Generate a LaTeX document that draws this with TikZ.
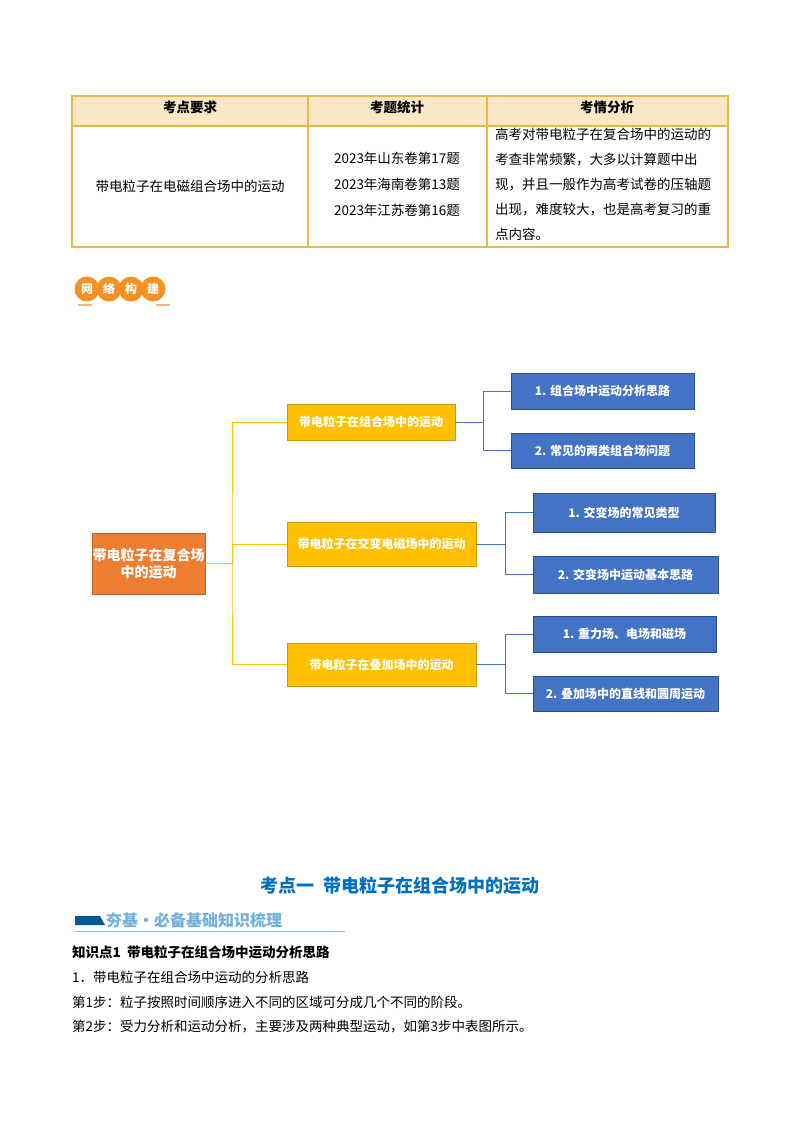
\documentclass[tikz,border=0pt]{standalone}
\usepackage{fontspec}
\setmainfont{Noto Sans CJK SC}
\definecolor{tb}{HTML}{E8B84A}
\definecolor{th}{HTML}{FBE7C6}
\definecolor{org}{HTML}{ED7D31}
\definecolor{yel}{HTML}{FFC000}
\definecolor{blu}{HTML}{4472C4}
\definecolor{ttl}{HTML}{0070C0}
\begin{document}
\begin{tikzpicture}[x=1pt,y=-1pt,
 ybox/.style={fill=yel,draw=yel!80!black,line width=0.4pt,text=white,font=\fontsize{12}{14}\selectfont\bfseries},
 bbox/.style={fill=blu,draw=blu!70!black,line width=0.4pt,text=white,font=\fontsize{12}{14}\selectfont\bfseries},
 yl/.style={yel,line width=1pt},
 bl/.style={blu,line width=1pt},
 body/.style={anchor=west,font=\fontsize{13.5}{16}\selectfont,inner sep=0pt}]
\useasboundingbox (0,0) rectangle (800,1132);
\fill[white] (0,0) rectangle (800,1132);
% table
\fill[th] (72,96) rectangle (728,126);
\draw[tb,line width=1.3pt] (72,96) rectangle (728,247) (72,126)--(728,126) (308,96)--(308,247) (487,96)--(487,247);
\node[font=\fontsize{13.5}{16}\selectfont\bfseries] (h1) at (190,107) {考点要求};
\node[font=\fontsize{13.5}{16}\selectfont\bfseries] (h2) at (397,107) {考题统计};
\node[font=\fontsize{13.5}{16}\selectfont\bfseries] (h3) at (607,107) {考情分析};
\node[font=\fontsize{13.5}{16}\selectfont] (c1) at (190,186) {带电粒子在电磁组合场中的运动};
\node[font=\fontsize{13.5}{26}\selectfont,align=left] (c2) at (397,184) {2023年山东卷第17题\\2023年海南卷第13题\\2023年江苏卷第16题};
\node[font=\fontsize{13.5}{25}\selectfont,align=left,anchor=north west,inner sep=0pt] (c3) at (495,128) {高考对带电粒子在复合场中的运动的\\考查非常频繁，大多以计算题中出\\现，并且一般作为高考试卷的压轴题\\出现，难度较大，也是高考复习的重\\点内容。};
% badge
\foreach \t [count=\i] in {网,络,构,建}{
 \fill[org!70!yel] (65+\i*22,289) circle (12.5);
 \node[text=white,font=\fontsize{12}{14}\selectfont\bfseries] (bd\i) at (65+\i*22,289) {\t};}
\draw[org!60,line width=1.5pt] (78,305)--(92,305) (156,305)--(170,305);
% mind map
\node[fill=org,draw=org!80!black,minimum width=113pt,minimum height=61pt,text=white,align=center,font=\fontsize{14}{17}\selectfont\bfseries,inner sep=0pt] (root) at (148.5,563.5) {带电粒子在复合场\\中的运动};
\node[ybox,minimum width=168pt,minimum height=36pt] (m1) at (371,422) {带电粒子在组合场中的运动};
\node[ybox,minimum width=189pt,minimum height=44pt] (m2) at (381.5,544) {带电粒子在交变电磁场中的运动};
\node[ybox,minimum width=189pt,minimum height=43pt] (m3) at (381.5,664.5) {带电粒子在叠加场中的运动};
\node[bbox,minimum width=183pt,minimum height=36pt] (b11) at (602.5,391) {1. 组合场中运动分析思路};
\node[bbox,minimum width=183pt,minimum height=35pt] (b12) at (602.5,450.5) {2. 常见的两类组合场问题};
\node[bbox,minimum width=182pt,minimum height=39pt] (b21) at (624,512.5) {1. 交变场的常见类型};
\node[bbox,minimum width=185pt,minimum height=37pt] (b22) at (625.5,574.5) {2. 交变场中运动基本思路};
\node[bbox,minimum width=183pt,minimum height=36pt] (b31) at (624.5,634) {1. 重力场、电场和磁场};
\node[bbox,minimum width=185pt,minimum height=35pt] (b32) at (625.5,693.5) {2. 叠加场中的直线和圆周运动};
\coordinate (tr) at (232,563.5);
\draw[yl] (root.east)--(tr);
\draw[yl] (m1.west) -| (tr) |- (m3.west);
\draw[yl] (tr)|-(m2.west);
\draw[bl] (m1.east)--++(28,0) coordinate (j1);
\draw[bl] (b11.west) -| (j1) |- (b12.west);
\draw[bl] (m2.east)--++(29,0) coordinate (j2);
\draw[bl] (b21.west) -| (j2) |- (b22.west);
\draw[bl] (m3.east)--++(29,0) coordinate (j3);
\draw[bl] (b31.west) -| (j3) |- (b32.west);
% lower text
\node[text=ttl,font=\fontsize{18}{21}\selectfont\bfseries] (title) at (400,886) {考点一\ \ 带电粒子在组合场中的运动};
\fill[ttl!80!black] (75,916)--(100,916)--(105,925)--(75,925)--cycle;
\node[anchor=west,text=ttl!55,font=\fontsize{16}{19}\selectfont\bfseries,inner sep=0pt] (ban) at (106,920) {夯基·必备基础知识梳理};
\draw[ttl!50,line width=0.6pt] (75,931)--(345,931);
\node[body,font=\fontsize{13.5}{16}\selectfont\bfseries] (k1) at (72,952) {知识点1\ \ 带电粒子在组合场中运动分析思路};
\node[body] (k2) at (72,977) {1．带电粒子在组合场中运动的分析思路};
\node[body] (k3) at (72,1002) {第1步：粒子按照时间顺序进入不同的区域可分成几个不同的阶段。};
\node[body] (k4) at (72,1027) {第2步：受力分析和运动分析，主要涉及两种典型运动，如第3步中表图所示。};
\end{tikzpicture}
\end{document}
